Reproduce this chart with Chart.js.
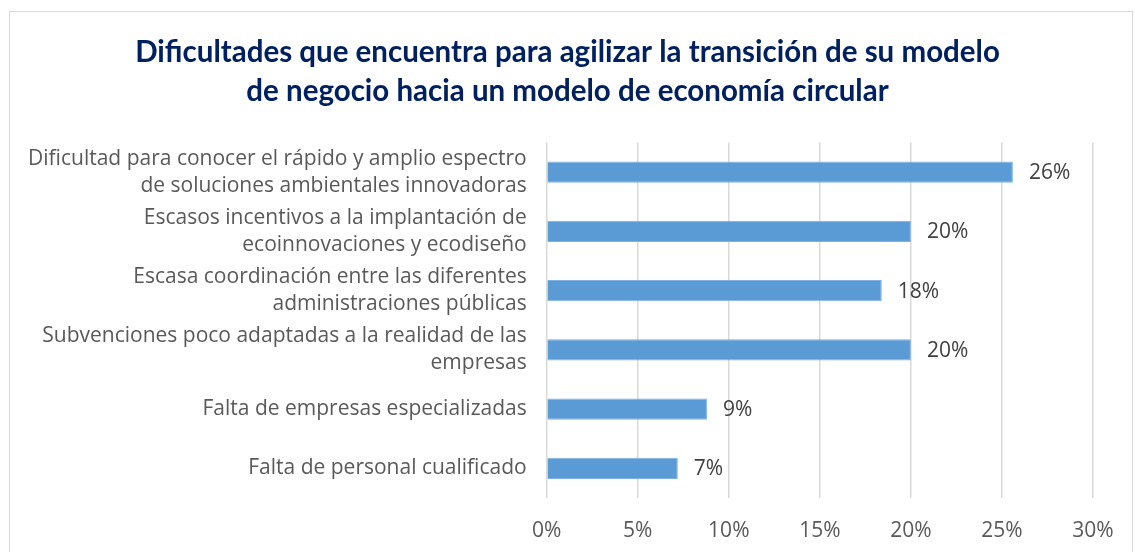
<!DOCTYPE html>
<html>
<head>
<meta charset="utf-8">
<script src="https://cdn.jsdelivr.net/npm/chart.js@4"></script>
<style>
  body { margin: 0; background: #fff; }
  #wrap { position: relative; width: 1135px; height: 552px; overflow: hidden; }
  #frame { position: absolute; left: 9px; top: 11px; width: 1124px; height: 560px; border: 1px solid #d9d9d9; box-sizing: border-box; }
  #chart { position: absolute; left: 0; top: 0; }
</style>
</head>
<body>
<div id="wrap">
  <div id="frame"></div>
  <canvas id="chart" width="1135" height="552"></canvas>
</div>
<script>
"use strict";

const titleLines = [
  "Dificultades que encuentra para agilizar la transición de su modelo",
  "de negocio hacia un modelo de economía circular"
];

const categories = [
  ["Dificultad para conocer el rápido y amplio espectro", "de soluciones ambientales innovadoras"],
  ["Escasos incentivos a la implantación de", "ecoinnovaciones y ecodiseño"],
  ["Escasa coordinación entre las diferentes", "administraciones públicas"],
  ["Subvenciones poco adaptadas a la realidad de las", "empresas"],
  "Falta de empresas especializadas",
  "Falta de personal cualificado"
];

// percentages per answer
const values = [25.6, 20.0, 18.4, 20.0, 8.8, 7.2];

const xTicks = [0, 5, 10, 15, 20, 25, 30];

const labelFont = { family: "'Open Sans', sans-serif", size: 21 };

// title centred on the whole canvas (the built-in one centres inside the layout padding)
const centredTitle = {
  id: "centredTitle",
  afterDraw(chart) {
    const ctx = chart.ctx;
    ctx.save();
    ctx.font = "bold 29.5px Lato, sans-serif";
    ctx.fillStyle = "#002060";
    ctx.textAlign = "center";
    ctx.textBaseline = "middle";
    titleLines.forEach(function (line, i) {
      ctx.fillText(line, chart.width / 2, 52 + i * 39);
    });
    ctx.restore();
  }
};

// writes the rounded percentage just past the end of each bar
const valueLabels = {
  id: "valueLabels",
  afterDatasetsDraw(chart) {
    const ctx = chart.ctx;
    const meta = chart.getDatasetMeta(0);
    ctx.save();
    ctx.font = labelFont.size + "px " + labelFont.family;
    ctx.fillStyle = "#404040";
    ctx.textAlign = "left";
    ctx.textBaseline = "middle";
    meta.data.forEach(function (bar, i) {
      ctx.fillText(Math.round(values[i]) + "%", bar.x + 16, bar.y + 1);
    });
    ctx.restore();
  }
};

const chart = new Chart(document.getElementById("chart"), {
  type: "bar",
  data: {
    labels: categories,
    datasets: [{
      data: values,
      backgroundColor: "#5b9bd5",
      borderColor: "#7fb1de",
      borderWidth: 1,
      barPercentage: 0.36,
      categoryPercentage: 1
    }]
  },
  options: {
    indexAxis: "y",
    responsive: false,
    animation: false,
    layout: { padding: { top: 142.5, left: 0, right: 42, bottom: 0 } },
    plugins: {
      legend: { display: false },
      tooltip: { enabled: false },
      title: { display: false }
    },
    scales: {
      x: {
        min: 0,
        max: 30,
        afterBuildTicks(scale) {
          scale.ticks = xTicks.map(function (v) { return { value: v }; });
        },
        afterFit(scale) { scale.height = 54; },
        grid: { color: "#d9d9d9", lineWidth: 1.5, drawTicks: false },
        border: { display: false },
        ticks: {
          color: "#595959",
          font: labelFont,
          padding: 20,
          callback: function (v) { return v + "%"; }
        }
      },
      y: {
        grid: { display: false, drawTicks: false },
        border: { display: false },
        afterFit(scale) { scale.width = 546.7; },
        ticks: {
          autoSkip: false,
          color: "#595959",
          font: { family: labelFont.family, size: labelFont.size, lineHeight: 27 / labelFont.size },
          padding: 20
        }
      }
    }
  },
  plugins: [valueLabels, centredTitle]
});
</script>
</body>
</html>
